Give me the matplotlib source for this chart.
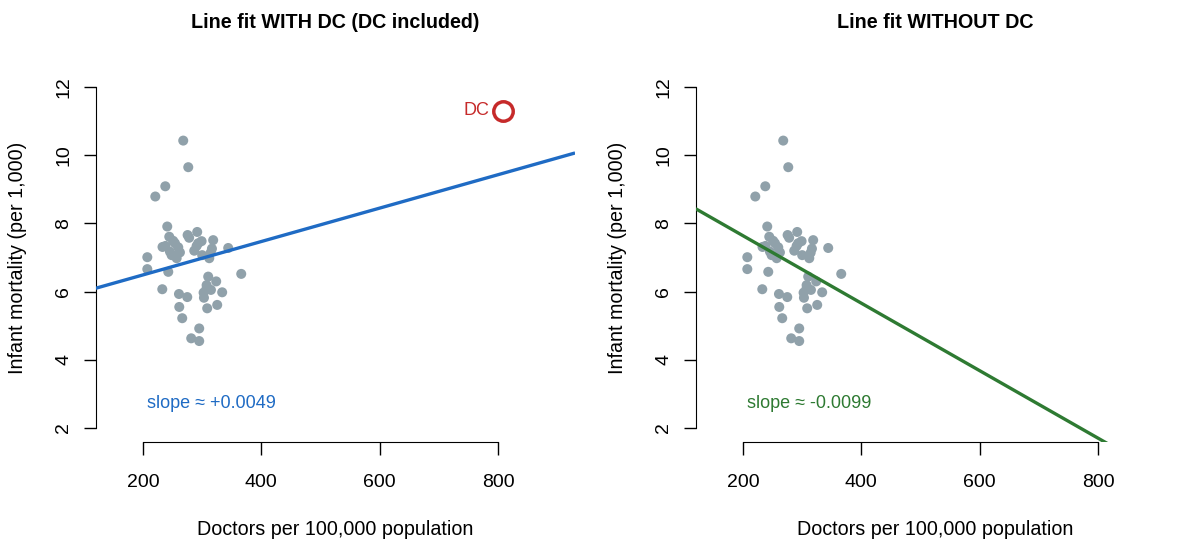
import matplotlib
matplotlib.use("Agg")
import matplotlib.pyplot as plt
import numpy as np

plt.rcParams['font.family'] = ['Liberation Sans', 'DejaVu Sans']

# Data (states, excluding DC)
doctors = [268, 276.5, 237.7, 220.8, 241, 275.4, 291.6, 278, 244.4, 318.6,
           299, 251, 233, 238, 259.6, 290.6, 344, 316.5, 245.6, 262.4,
           286.6, 248.4, 300, 314.3, 256.9, 312, 207.3, 207.3, 242.7, 366,
           310.2, 323.7, 307.5, 232.6, 314.8, 333.8, 302.4, 260.8, 274.8, 303,
           325.4, 261.3, 308.5, 266.3, 295, 281.5, 295, 254, 293.3, 307.5]
mortality = [10.43, 9.65, 9.09, 8.79, 7.91, 7.66, 7.75, 7.58, 7.61, 7.51,
             7.48, 7.49, 7.31, 7.34, 7.30, 7.34, 7.28, 7.26, 7.17, 7.15,
             7.20, 7.07, 7.07, 7.14, 6.98, 6.98, 7.01, 6.66, 6.58, 6.52,
             6.44, 6.30, 6.19, 6.07, 6.05, 5.98, 5.97, 5.93, 5.84, 5.82,
             5.61, 5.55, 5.51, 5.22, 4.92, 4.63, 4.55, 7.42, 7.42, 6.10]
dc_doctors = 807.6
dc_mortality = 11.30

# Fitted lines (intercept, slope)
fit_with_dc = (5.51, 0.0049)
fit_without_dc = (9.62, -0.0099)

titles = ["Line fit WITH DC (DC included)", "Line fit WITHOUT DC"]
slope_labels = ["slope \u2248 +0.0049", "slope \u2248 -0.0099"]
xticks = [200, 400, 600, 800]
yticks = [2, 4, 6, 8, 10, 12]

pt_color = "#90A1AA"
blue = "#1F6BC4"
green = "#2E7A32"
red = "#C62A2A"

fig = plt.figure(figsize=(12, 5.4), dpi=100)
ax1 = fig.add_axes([0.0797, 0.1822, 0.3995, 0.6818])
ax2 = fig.add_axes([0.5797, 0.1822, 0.3995, 0.6818])

xlim = (120, 930)
ylim = (1.6, 12.4)

for i, (ax, fit, col) in enumerate([(ax1, fit_with_dc, blue), (ax2, fit_without_dc, green)]):
    ax.set_xlim(*xlim)
    ax.set_ylim(*ylim)
    ax.scatter(doctors, mortality, s=52, color=pt_color, edgecolors='none', zorder=2)
    xs = np.array(xlim)
    ax.plot(xs, fit[0] + fit[1] * xs, color=col, lw=2.4, zorder=3, solid_capstyle='butt')
    ax.text(207, 2.73, slope_labels[i], color=col, fontsize=13, ha='left', va='center')
    ax.set_title(titles[i], fontsize=14.2, fontweight='bold', pad=33)
    ax.set_xlabel("Doctors per 100,000 population", fontsize=14.2, labelpad=21)
    ax.set_ylabel("Infant mortality (per 1,000)", fontsize=14.2, labelpad=20)
    for s in ['top', 'right']:
        ax.spines[s].set_visible(False)
    ax.spines['left'].set_bounds(2, 12)
    ax.spines['bottom'].set_bounds(200, 800)
    ax.set_xticks(xticks)
    ax.set_yticks(yticks)
    ax.tick_params(axis='both', direction='out', length=9, width=1, labelsize=14)
    ax.tick_params(axis='x', pad=14)
    ax.tick_params(axis='y', pad=8)
    for lab in ax.get_yticklabels():
        lab.set_rotation(90)
        lab.set_va('center')

ax1.plot([dc_doctors], [dc_mortality], marker='o', ms=14, mfc='none', mec=red, mew=2.5, zorder=4)
ax1.text(dc_doctors - 22, dc_mortality, "DC", color=red, fontsize=13, ha='right', va='center')

fig.savefig("out.png", dpi=100)
